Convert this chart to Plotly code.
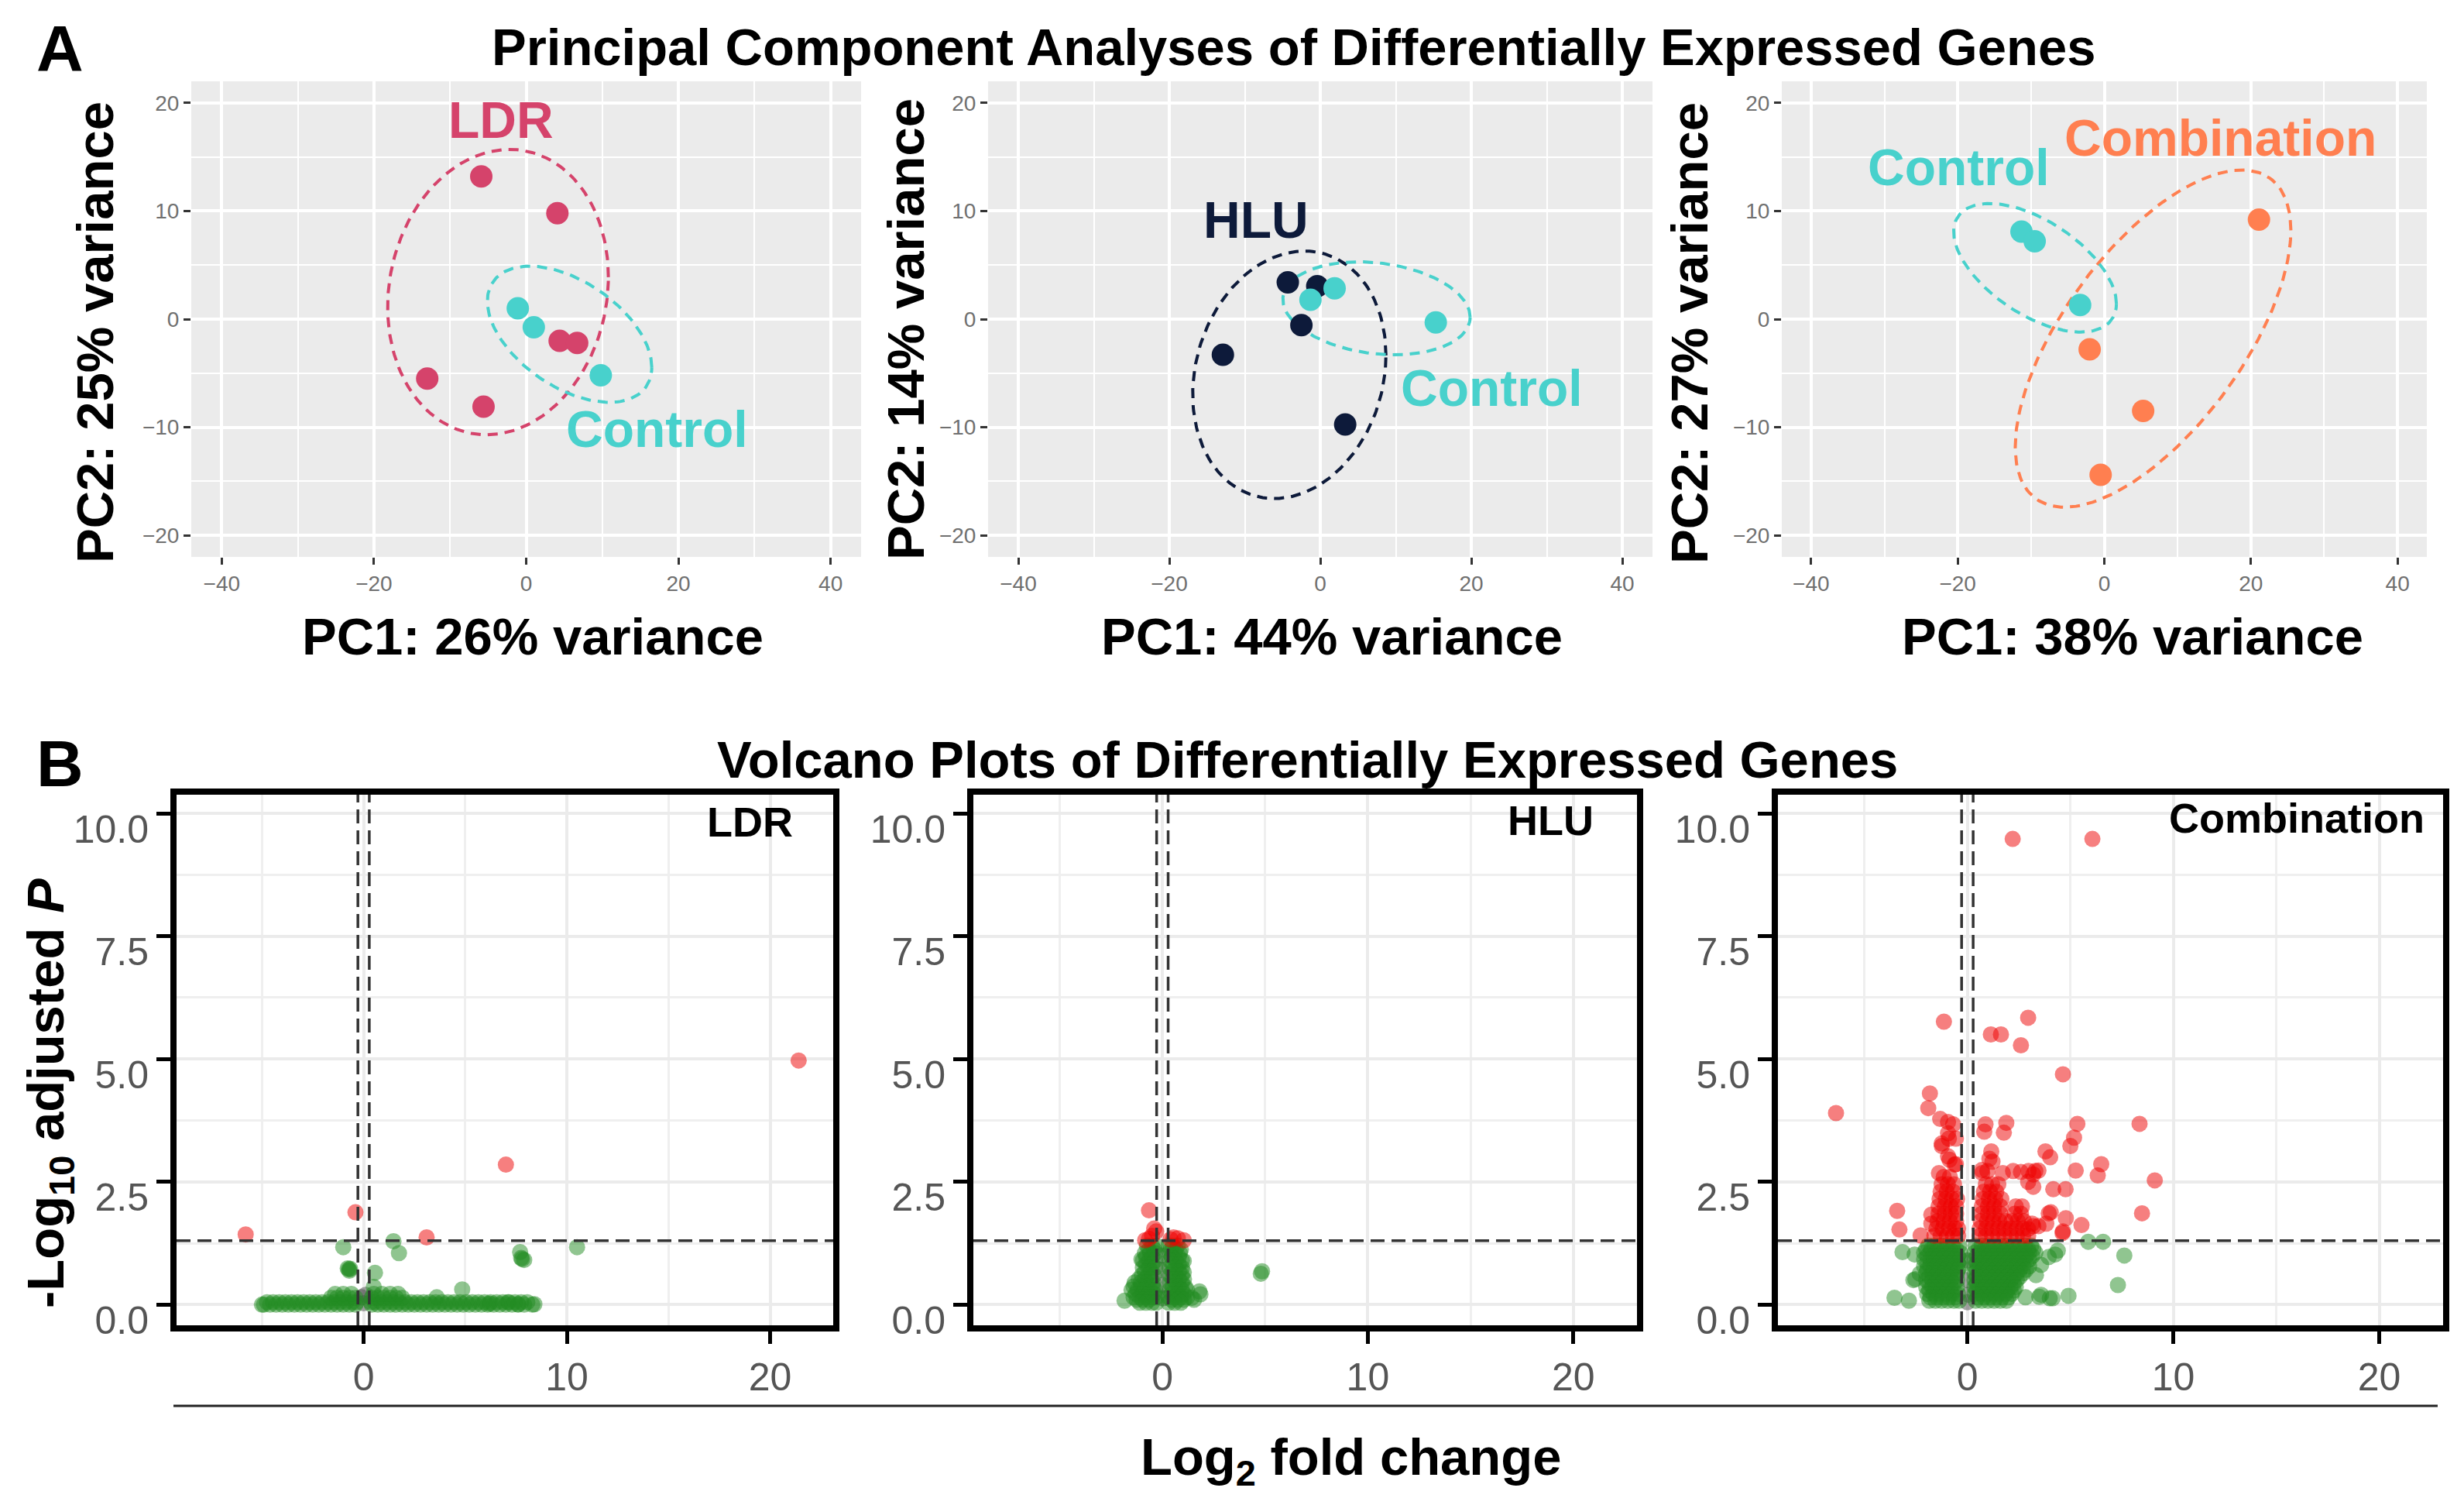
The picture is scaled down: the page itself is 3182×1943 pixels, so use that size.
import numpy as np
import plotly.graph_objects as go

FONT = "Liberation Sans, Arial, sans-serif"
W, H = 3182, 1943
PAGE_OFFSET = 8  # default body margin of the html page

# ---- PCA scores (PC1, PC2) ----
ldr_pc1 = [-5.9, 4.1, 4.4, 6.7, -13.0, -5.6]
ldr_pc2 = [13.2, 9.8, -2.0, -2.2, -5.5, -8.1]
ctrl1_pc1 = [-1.1, 1.0, 9.8]
ctrl1_pc2 = [1.0, -0.75, -5.2]

hlu_pc1 = [-4.3, -0.4, -2.5, -12.9, 3.3]
hlu_pc2 = [3.4, 3.05, -0.55, -3.3, -9.75]
ctrl2_pc1 = [-1.3, 1.9, 15.3]
ctrl2_pc2 = [1.8, 2.85, -0.3]

comb_pc1 = [21.1, -2.0, 5.3, -0.5]
comb_pc2 = [9.2, -2.8, -8.5, -14.4]
ctrl3_pc1 = [-11.3, -9.5, -3.3]
ctrl3_pc2 = [8.1, 7.2, 1.3]

# group ellipses: centre x, centre y, half width, half height, tilt phase (deg)
ldr_ell = [-3.7, 2.5, 14.5, 13.2, 6]
ctrl1_ell = [5.7, -1.4, 10.8, 6.3, -29]
hlu_ell = [-4.1, -5.15, 12.8, 11.45, 9]
ctrl2_ell = [7.45, 1.0, 12.4, 4.3, -11]
comb_ell = [6.65, -1.8, 18.8, 15.6, 40]
ctrl3_ell = [-9.45, 4.75, 11.1, 5.95, -34]

pca_titles_x = ["PC1: 26% variance", "PC1: 44% variance", "PC1: 38% variance"]
pca_titles_y = ["PC2: 25% variance", "PC2: 14% variance", "PC2: 27% variance"]

# ---- volcano: log2 fold change / -log10 adjusted P ----
# LDR
ldr_red_lfc = [21.4, 7.0, -5.8, -0.4, 3.1]
ldr_red_p = [4.97, 2.85, 1.43, 1.88, 1.37]
ldr_green_lfc = [-1.0, 1.47, 1.74, -0.78, -0.72, -0.66, -0.7, 0.56, 7.7, 7.8, 7.9, 7.75, 10.5, 4.85, 0.5,
                 3.6, -5.0, 6.2, 7.1, 7.6, 8.4]
ldr_green_p = [1.17, 1.29, 1.05, 0.74, 0.72, 0.73, 0.69, 0.65, 1.07, 0.93, 0.91, 0.95, 1.17, 0.31, 0.36,
               0.15, 0.0, 0.02, 0.05, 0.01, 0.01]
ldr_rows_p = [0.0, 0.05, 0.14, 0.22]
ldr_rows_lfc = [
    [-4.9, -4.6, -4.3, -4.0, -3.7, -3.4, -3.1, -2.8, -2.5, -2.2, -1.9, -1.6, -1.3, -1.0, -0.7, -0.4,
     0.4, 0.7, 1.0, 1.3, 1.6, 1.9, 2.2, 2.5, 2.8, 3.1, 3.4, 3.7, 4.0, 4.3, 4.6, 4.9, 5.2, 5.5, 5.8,
     6.1, 6.4, 6.7, 7.0, 7.3, 7.6, 7.9, 8.3],
    [-4.75, -4.45, -4.15, -3.85, -3.55, -3.25, -2.95, -2.65, -2.35, -2.05, -1.75, -1.45, -1.15, -0.85,
     -0.55, -0.35, 0.35, 0.55, 0.85, 1.15, 1.45, 1.75, 2.05, 2.35, 2.65, 2.95, 3.25, 3.55, 3.85, 4.15,
     4.45, 4.75, 5.05, 5.35, 5.65, 5.95, 6.25, 6.55, 6.85, 7.15, 7.45, 7.75, 8.05],
    [-1.6, -1.3, -1.0, -0.7, -0.4, 0.4, 0.7, 1.0, 1.3, 1.6, 1.9],
    [-1.4, -1.0, -0.6, 0.5, 0.9, 1.3, 1.7],
]
ldr_grey_lfc = [0.0, -0.1, 0.1]
ldr_grey_p = [0.03, 0.15, 0.2]

# HLU
hlu_red_lfc = [-0.65, -0.4, -0.3, -0.65, -0.84, -0.5, 0.54, 0.75, 1.04, 0.4]
hlu_red_p = [1.92, 1.55, 1.49, 1.34, 1.31, 1.4, 1.37, 1.35, 1.31, 1.33]
hlu_green_lfc = [-1.84, 1.85, 1.54, 4.85, 4.79, -1.02, 1.04, 1.04, 1.8, 1.43]
hlu_green_p = [0.08, 0.21, 0.10, 0.68, 0.63, 0.92, 0.89, 0.66, 0.27, 0.14]
hlu_rows_p = [1.2, 1.12, 1.05, 0.97, 0.9, 0.82, 0.75, 0.67, 0.6, 0.52, 0.45, 0.37, 0.3, 0.22, 0.15, 0.1, 0.04]
hlu_rows_lfc = [
    [-0.75, -0.5, -0.3, 0.3, 0.5, 0.75],
    [-0.65, -0.4, 0.4, 0.65, 0.9],
    [-0.85, -0.6, -0.35, 0.35, 0.6, 0.85],
    [-0.8, -0.5, 0.45, 0.8],
    [-0.95, -0.65, -0.35, 0.35, 0.65, 0.95],
    [-0.8, -0.5, 0.5, 0.8],
    [-0.95, -0.65, -0.35, 0.35, 0.65, 0.95],
    [-0.85, -0.55, 0.5, 0.8],
    [-1.0, -0.7, -0.4, 0.35, 0.65, 0.95],
    [-1.15, -0.85, -0.55, 0.5, 0.8, 1.05],
    [-1.35, -1.05, -0.75, -0.45, 0.35, 0.65, 0.95],
    [-1.4, -1.05, -0.75, -0.45, 0.5, 0.8, 1.1],
    [-1.5, -1.2, -0.9, -0.6, -0.35, 0.35, 0.65, 0.95, 1.2],
    [-1.3, -0.95, -0.65, -0.4, 0.45, 0.75, 1.05],
    [-1.4, -1.1, -0.8, -0.5, -0.3, 0.3, 0.6, 0.9, 1.2],
    [-1.25, -0.95, -0.65, 0.45, 0.75, 1.05],
    [-1.1, -0.8, -0.5, -0.3, 0.3, 0.6, 0.9],
]
hlu_grey_lfc = [-0.09, 0.04, 0.0, -0.05]
hlu_grey_p = [0.71, 0.13, 0.4, 1.0]

# Combination
comb_red_lfc = [2.2, 6.07, -1.14, 2.95, 1.14, 1.63, 2.6, 4.64, -1.82, -1.9, -6.38, 8.36, 5.34, 5.18, 5.0,
                3.79, 4.02, 6.5, 6.33, 5.26, 9.1, 4.17, 4.77, -3.41, 8.48, 4.05, 4.78, 5.54, -3.3, -2.27,
                4.62, 3.83, 3.2, -0.94, -0.56, -1.38, -1.25, -0.9, -0.56, -1.32, -0.94, -0.69, -0.94, -1.24,
                -0.87, -0.62, 0.72, 0.97, 1.72, 2.22, 2.6, 2.97, 3.3, 1.16, 1.22, 0.88, 0.82, 1.89, 1.77,
                1.07, 0.7, 2.95, 3.2, 3.45, 3.2, 3.95, 3.45, 4.64, 3.14, 2.95, -1.75, -1.75]
comb_red_p = [9.48, 9.48, 5.76, 5.84, 5.5, 5.5, 5.28, 4.69, 4.3, 4.0, 3.9, 3.68, 3.68, 3.4, 3.23,
              3.12, 3.0, 2.86, 2.63, 2.73, 2.53, 2.35, 2.35, 1.91, 1.86, 1.88, 1.76, 1.62, 1.53, 1.41,
              1.46, 1.65, 1.6, 3.02, 2.86, 2.68, 3.28, 3.38, 3.38, 3.78, 3.72, 3.67, 3.49, 3.23,
              2.95, 2.85, 2.68, 2.72, 2.68, 2.72, 2.7, 2.72, 2.72, 3.12, 2.91, 3.67, 3.52, 3.7, 3.5,
              2.97, 2.74, 2.5, 2.4, 2.73, 2.65, 1.86, 1.6, 1.49, 1.65, 1.54, 1.83, 1.65]
comb_red_rows_p = [1.4, 1.55, 1.7, 1.85, 2.0, 2.15, 2.3, 2.45, 2.6]
comb_red_rows_lfc = [
    [-1.6, -1.3, -1.0, -0.7, -0.45, 0.6, 0.9, 1.2, 1.5, 1.8, 2.1, 2.4, 2.7, 2.95],
    [-1.5, -1.2, -0.9, -0.6, -0.45, 0.6, 0.9, 1.2, 1.5, 1.8, 2.1, 2.4, 2.7],
    [-1.45, -1.15, -0.85, -0.55, 0.65, 0.95, 1.25, 1.55, 1.85, 2.15, 2.45, 2.75],
    [-1.4, -1.1, -0.8, -0.55, 0.7, 1.0, 1.3, 1.6, 2.3, 2.6],
    [-1.4, -1.1, -0.8, -0.55, 0.7, 1.0, 1.3, 1.6, 2.35, 2.65],
    [-1.35, -1.05, -0.75, -0.5, 0.75, 1.05, 1.35, 1.65],
    [-1.3, -1.0, -0.7, 0.8, 1.1, 1.4],
    [-1.25, -0.95, -0.65, 0.9, 1.2, 1.5],
    [-1.15, -0.85],
]
comb_green_lfc = [5.87, 6.59, 7.62, 7.31, 4.91, -3.54, -2.84, -3.15, -2.53, 4.26, 4.39, 3.49, 4.0, -2.62,
                  -2.31, -2.56, 3.95, 3.58, 3.33, 2.82, 3.58, 4.14]
comb_green_p = [1.28, 1.28, 1.0, 0.4, 0.18, 0.14, 0.08, 1.07, 0.52, 1.02, 1.1, 0.16, 0.13, 0.5,
                0.63, 1.02, 0.97, 0.81, 0.6, 0.15, 0.2, 0.13]
comb_green_rows_p = [1.2, 1.13, 1.06, 0.99, 0.92, 0.85, 0.78, 0.71, 0.64, 0.57, 0.5, 0.43, 0.36, 0.29,
                     0.22, 0.15, 0.08]
comb_green_rows_lfc = [
    [-1.9, -1.6, -1.3, -1.0, -0.7, -0.4, 0.4, 0.7, 1.0, 1.3, 1.6, 1.9, 2.2, 2.5, 2.8, 3.1],
    [-2.0, -1.75, -1.45, -1.15, -0.85, -0.55, 0.55, 0.85, 1.15, 1.45, 1.75, 2.05, 2.35, 2.65, 2.95, 3.2],
    [-2.1, -1.8, -1.5, -1.2, -0.9, -0.6, -0.35, 0.35, 0.6, 0.9, 1.2, 1.5, 1.8, 2.1, 2.4, 2.7, 3.0, 3.3],
    [-1.95, -1.65, -1.35, -1.05, -0.75, -0.45, 0.45, 0.75, 1.05, 1.35, 1.65, 1.95, 2.25, 2.55, 2.85, 3.15],
    [-2.1, -1.8, -1.5, -1.2, -0.9, -0.6, -0.35, 0.35, 0.6, 0.9, 1.2, 1.5, 1.8, 2.1, 2.4, 2.7, 3.0],
    [-1.95, -1.65, -1.35, -1.05, -0.75, -0.45, 0.45, 0.75, 1.05, 1.35, 1.65, 1.95, 2.25, 2.55, 2.85],
    [-2.1, -1.8, -1.5, -1.2, -0.9, -0.6, -0.35, 0.35, 0.6, 0.9, 1.2, 1.5, 1.8, 2.1, 2.4, 2.7, 3.0],
    [-1.95, -1.65, -1.35, -1.05, -0.75, -0.45, 0.45, 0.75, 1.05, 1.35, 1.65, 1.95, 2.25, 2.55, 2.85],
    [-2.0, -1.7, -1.4, -1.1, -0.8, -0.5, 0.35, 0.6, 0.9, 1.2, 1.5, 1.8, 2.1, 2.4, 2.7],
    [-1.85, -1.55, -1.25, -0.95, -0.65, 0.45, 0.75, 1.05, 1.35, 1.65, 1.95, 2.25, 2.55],
    [-2.0, -1.7, -1.4, -1.1, -0.8, -0.5, 0.35, 0.6, 0.9, 1.2, 1.5, 1.8, 2.1, 2.4],
    [-1.85, -1.55, -1.25, -0.95, -0.65, 0.45, 0.75, 1.05, 1.35, 1.65, 1.95, 2.25],
    [-2.0, -1.7, -1.4, -1.1, -0.8, -0.5, 0.35, 0.6, 0.9, 1.2, 1.5, 1.8, 2.1, 2.35],
    [-1.85, -1.55, -1.25, -0.95, -0.65, 0.45, 0.75, 1.05, 1.35, 1.65, 1.95, 2.25],
    [-1.95, -1.65, -1.35, -1.05, -0.75, -0.45, 0.35, 0.65, 0.95, 1.25, 1.55, 1.85, 2.15],
    [-1.8, -1.5, -1.2, -0.9, -0.6, 0.5, 0.8, 1.1, 1.4, 1.7, 2.0],
    [-1.85, -1.55, -1.25, -0.95, -0.65, -0.4, 0.4, 0.7, 1.0, 1.3, 1.6, 1.9],
]
comb_grey_lfc = [0.0, 0.05, -0.05, 0.0]
comb_grey_p = [0.05, 0.2, 0.5, 0.9]

volcano_labels = ["LDR", "HLU", "Combination"]
lfc_cutoff = 0.28
p_cutoff = 1.301

# colours
C_LDR = "#D5436B"
C_CTRL = "#48D1CC"
C_HLU = "#0D1A3A"
C_COMB = "#FF7F50"
C_RED = "rgba(238,0,0,0.5)"
C_GREEN = "rgba(34,139,34,0.5)"
C_GREY = "rgba(77,77,77,0.5)"


def rows(row_y, row_x, x=None, y=None):
    xs = list(x or [])
    ys = list(y or [])
    for yv, xr in zip(row_y, row_x):
        xs += xr
        ys += [yv] * len(xr)
    return xs, ys


def ellipse(p):
    cx, cy, rx, ry, ph = p
    t = np.linspace(0, 2 * np.pi, 181)
    return cx + rx * np.cos(t), cy + ry * np.sin(t + np.radians(ph))


def px(x):
    return (x - PAGE_OFFSET) / W


def py(y):
    return 1 - (y - PAGE_OFFSET) / H


fig = go.Figure()

# ---------- panel A ----------
pca_groups = [
    (ldr_pc1, ldr_pc2, ldr_ell, C_LDR, ctrl1_pc1, ctrl1_pc2, ctrl1_ell),
    (hlu_pc1, hlu_pc2, hlu_ell, C_HLU, ctrl2_pc1, ctrl2_pc2, ctrl2_ell),
    (comb_pc1, comb_pc2, comb_ell, C_COMB, ctrl3_pc1, ctrl3_pc2, ctrl3_ell),
]
for i, (gx, gy, gell, gcol, cx, cy, cell) in enumerate(pca_groups):
    xa = "x" if i == 0 else f"x{i + 1}"
    ya = "y" if i == 0 else f"y{i + 1}"
    for ell, col in [(gell, gcol), (cell, C_CTRL)]:
        ex, ey = ellipse(ell)
        fig.add_trace(go.Scatter(x=ex, y=ey, mode="lines", xaxis=xa, yaxis=ya,
                                 line=dict(color=col, width=4, dash="13px,9px"), hoverinfo="skip"))
    fig.add_trace(go.Scatter(x=gx, y=gy, mode="markers", xaxis=xa, yaxis=ya,
                             marker=dict(color=gcol, size=29, line=dict(width=0))))
    fig.add_trace(go.Scatter(x=cx, y=cy, mode="markers", xaxis=xa, yaxis=ya,
                             marker=dict(color=C_CTRL, size=29, line=dict(width=0))))

# ---------- panel B ----------
ldr_gx, ldr_gy = rows(ldr_rows_p, ldr_rows_lfc, ldr_green_lfc, ldr_green_p)
hlu_gx, hlu_gy = rows(hlu_rows_p, hlu_rows_lfc, hlu_green_lfc, hlu_green_p)
comb_gx, comb_gy = rows(comb_green_rows_p, comb_green_rows_lfc, comb_green_lfc, comb_green_p)
comb_rx, comb_ry = rows(comb_red_rows_p, comb_red_rows_lfc, comb_red_lfc, comb_red_p)

volcano = [
    (ldr_grey_lfc, ldr_grey_p, ldr_gx, ldr_gy, ldr_red_lfc, ldr_red_p),
    (hlu_grey_lfc, hlu_grey_p, hlu_gx, hlu_gy, hlu_red_lfc, hlu_red_p),
    (comb_grey_lfc, comb_grey_p, comb_gx, comb_gy, comb_rx, comb_ry),
]
for i, (nx, ny, gx, gy, rx, ry) in enumerate(volcano):
    k = i + 4
    for xs, ys, col in [(nx, ny, C_GREY), (gx, gy, C_GREEN), (rx, ry, C_RED)]:
        fig.add_trace(go.Scatter(x=xs, y=ys, mode="markers", xaxis=f"x{k}", yaxis=f"y{k}",
                                 marker=dict(color=col, size=21, line=dict(width=0))))

# ---------- axes ----------
a_dom_x = [[247, 1112], [1276, 2134], [2301, 3134]]
a_dom_y = [py(719), py(105)]
b_dom_x = [[228, 1076], [1257, 2114], [2296, 3155]]
b_dom_y = [py(1711), py(1026)]

layout = dict(width=W, height=H, margin=dict(l=0, r=0, t=0, b=0, autoexpand=False),
              paper_bgcolor="white", plot_bgcolor="white", showlegend=False,
              font=dict(family=FONT, color="black"))

shapes = []
annotations = []

for i in range(3):
    s = "" if i == 0 else str(i + 1)
    layout["xaxis" + s] = dict(
        domain=[px(a_dom_x[i][0]), px(a_dom_x[i][1])], anchor="y" + s, automargin=False,
        range=[-44, 44], tick0=0, dtick=20, showgrid=True, gridcolor="white", gridwidth=4,
        minor=dict(dtick=10, showgrid=True, gridcolor="white", gridwidth=2),
        ticks="outside", ticklen=9, tickwidth=3, tickcolor="#333333",
        tickfont=dict(size=28, color="#707070", family=FONT), zeroline=False, showline=False)
    layout["yaxis" + s] = dict(
        domain=a_dom_y, anchor="x" + s, automargin=False,
        range=[-22, 22], tick0=0, dtick=10, showgrid=True, gridcolor="white", gridwidth=4,
        minor=dict(dtick=5, showgrid=True, gridcolor="white", gridwidth=2),
        ticks="outside", ticklen=9, tickwidth=3, tickcolor="#333333",
        tickfont=dict(size=28, color="#707070", family=FONT), zeroline=False, showline=False)
    shapes.append(dict(type="rect", xref=f"x{s} domain", yref=f"y{s} domain", x0=0, x1=1, y0=0, y1=1,
                       fillcolor="#EBEBEB", line=dict(width=0), layer="below"))

for i in range(3):
    k = str(i + 4)
    layout["xaxis" + k] = dict(
        domain=[px(b_dom_x[i][0]), px(b_dom_x[i][1])], anchor="y" + k, automargin=False,
        range=[-9.2, 23.1], tick0=0, dtick=10, showgrid=True, gridcolor="#EBEBEB", gridwidth=4,
        minor=dict(dtick=5, showgrid=True, gridcolor="#EFEFEF", gridwidth=2.5),
        ticks="outside", ticklen=16, tickwidth=5, tickcolor="black",
        tickfont=dict(size=50, color="#555555", family=FONT), zeroline=False,
        showline=True, mirror=True, linewidth=8, linecolor="black")
    layout["yaxis" + k] = dict(
        domain=b_dom_y, anchor="x" + k, automargin=False,
        range=[-0.42, 10.38], tick0=0, dtick=2.5, tickformat=".1f", showgrid=True,
        gridcolor="#EBEBEB", gridwidth=4,
        minor=dict(dtick=1.25, showgrid=True, gridcolor="#EFEFEF", gridwidth=2.5),
        ticks="outside", ticklen=18, tickwidth=5, tickcolor="black", ticklabelshift=20,
        tickfont=dict(size=50, color="#555555", family=FONT), zeroline=False,
        showline=True, mirror=True, linewidth=8, linecolor="black")
    dash = dict(color="#333333", width=3.5, dash="18px,9px")
    for xv in (-lfc_cutoff, lfc_cutoff):
        shapes.append(dict(type="line", xref="x" + k, yref=f"y{k} domain", x0=xv, x1=xv, y0=0, y1=1,
                           line=dash, layer="above"))
    shapes.append(dict(type="line", xref=f"x{k} domain", yref="y" + k, x0=0, x1=1, y0=p_cutoff,
                       y1=p_cutoff, line=dash, layer="above"))

# shared x-axis rule for B
shapes.append(dict(type="line", xref="paper", yref="paper", x0=px(224), x1=px(3148), y0=py(1815),
                   y1=py(1815), line=dict(color="#222222", width=3)))


def note(text, x, y, size, color="black", angle=0, xanchor="center", xref="paper", yref="paper"):
    annotations.append(dict(text=text, x=x, y=y, xref=xref, yref=yref, showarrow=False,
                            xanchor=xanchor, yanchor="middle", textangle=angle,
                            font=dict(size=size, color=color, family=FONT, weight="bold")))


note("A", px(77), py(63), 84)
note("B", px(77), py(986), 84)
note("Principal Component Analyses of Differentially Expressed Genes", px(1670), py(61), 67)
note("Volcano Plots of Differentially Expressed Genes", px(1688), py(980), 67)

for tx, cxp in zip(pca_titles_x, [688, 1720, 2754]):
    note(tx, px(cxp), py(822), 67)
for ty, cxp, cyp in zip(pca_titles_y, [123, 1169, 2181], [429, 425, 430]):
    note(ty, px(cxp), py(cyp), 67, angle=-90)

# group labels inside the PCA panels
note("LDR", -3.35, 18.4, 66, C_LDR, xref="x", yref="y")
note("Control", 17.2, -10.2, 66, C_CTRL, xref="x", yref="y")
note("HLU", -8.5, 9.2, 66, C_HLU, xref="x2", yref="y2")
note("Control", 22.7, -6.4, 66, C_CTRL, xref="x2", yref="y2")
note("Control", -19.85, 14.05, 66, C_CTRL, xref="x3", yref="y3")
note("Combination", 15.8, 16.8, 66, C_COMB, xref="x3", yref="y3")

for lab, rx_, ry_ in zip(volcano_labels, [1026, 2060, 3133], [1061, 1059, 1056]):
    note(lab, px(rx_), py(ry_), 54, xanchor="right")

note("-Log<sub>10</sub> adjusted <i>P</i>", px(63), py(1412), 67, angle=-90)
note("Log<sub>2</sub> fold change", px(1744), py(1885), 67)

layout["shapes"] = shapes
layout["annotations"] = annotations
fig.update_layout(**layout)

fig.write_html("out.html", config={"displayModeBar": False})
